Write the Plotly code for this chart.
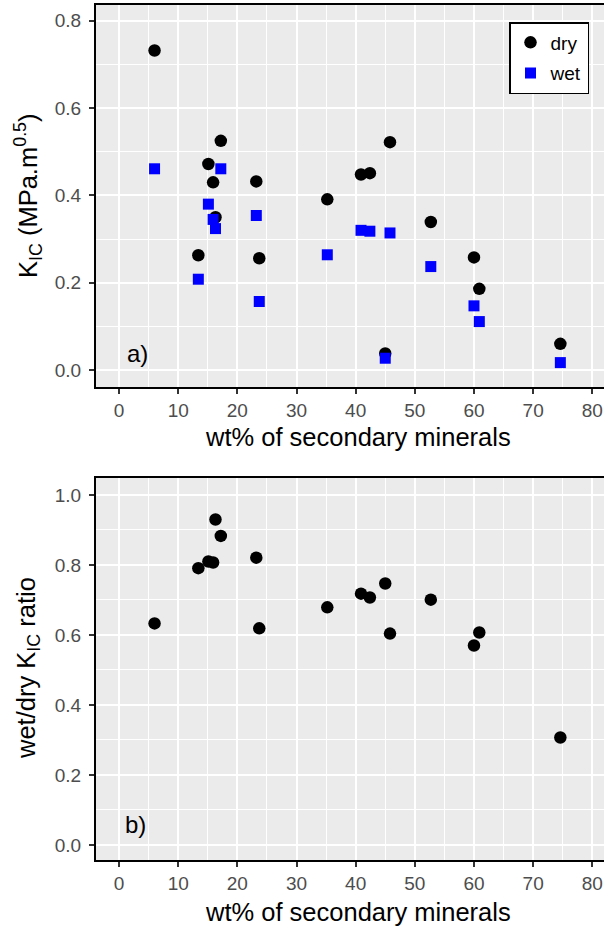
import plotly.graph_objects as go

# ---- data ----
wt_pct = [6.0, 13.4, 15.1, 15.9, 16.3, 17.2, 23.2, 23.7, 35.2, 40.9, 42.4, 45.0, 45.8, 52.7, 60.0, 60.9, 74.6]
k_dry = [0.732, 0.263, 0.472, 0.430, 0.350, 0.525, 0.432, 0.256, 0.391, 0.448, 0.451, 0.038, 0.522, 0.339, 0.258, 0.186, 0.060]
k_wet = [0.461, 0.208, 0.380, 0.345, 0.324, 0.461, 0.354, 0.157, 0.264, 0.320, 0.318, 0.027, 0.314, 0.237, 0.147, 0.111, 0.017]
ratio = [0.633, 0.791, 0.810, 0.807, 0.930, 0.883, 0.821, 0.619, 0.679, 0.718, 0.707, 0.747, 0.604, 0.701, 0.570, 0.607, 0.307]

x_ticks = [0, 10, 20, 30, 40, 50, 60, 70, 80]
top_y_ticks = [0.0, 0.2, 0.4, 0.6, 0.8]
bot_y_ticks = [0.0, 0.2, 0.4, 0.6, 0.8, 1.0]

W, H = 604, 928
FONT = "Liberation Sans, Arial, Helvetica, sans-serif"
TICK_COLOR = "#4D4D4D"
BG = "#EBEBEB"

# pixel geometry
px_left = 96
x_range = [-3.9, 81.98]
top_px = (5, 387)
bot_px = (477.5, 860)

def ydom(p):
    return [1 - p[1] / H, 1 - p[0] / H]

fig = go.Figure()

fig.add_trace(go.Scatter(x=wt_pct, y=k_dry, mode="markers", name="dry", legendgroup="dry",
                         marker=dict(symbol="circle", size=12.5, color="black"),
                         xaxis="x", yaxis="y"))
fig.add_trace(go.Scatter(x=wt_pct, y=k_wet, mode="markers", name="wet", legendgroup="wet",
                         marker=dict(symbol="square", size=11, color="#0000FF"),
                         xaxis="x", yaxis="y"))
fig.add_trace(go.Scatter(x=wt_pct, y=ratio, mode="markers", name="ratio",
                         showlegend=False,
                         marker=dict(symbol="circle", size=12.5, color="black"),
                         xaxis="x2", yaxis="y2"))

common_x = dict(
    range=x_range, domain=[px_left / W, 1.0],
    tickmode="array", tickvals=x_ticks, ticktext=[str(v) for v in x_ticks],
    showgrid=True, gridcolor="white", gridwidth=1.6,
    minor=dict(dtick=5, tick0=0, showgrid=True, gridcolor="white", gridwidth=0.8),
    zeroline=False, showline=True, linecolor="black", linewidth=2, mirror=True,
    ticks="outside", ticklen=5, tickwidth=1.5, tickcolor="#333333",
    tickfont=dict(family=FONT, size=19, color=TICK_COLOR),
    ticklabelstandoff=0,
)
common_y = dict(
    showgrid=True, gridcolor="white", gridwidth=1.6,
    zeroline=False, showline=True, linecolor="black", linewidth=2, mirror=False,
    ticks="outside", ticklen=5, tickwidth=1.5, tickcolor="#333333",
    tickfont=dict(family=FONT, size=19, color=TICK_COLOR),
    tickformat=".1f", ticklabelstandoff=4,
)

fig.update_layout(
    width=W, height=H,
    margin=dict(l=0, r=0, t=0, b=0),
    paper_bgcolor="white", plot_bgcolor=BG,
    font=dict(family=FONT),
    xaxis=dict(**common_x, anchor="y"),
    xaxis2=dict(**common_x, anchor="y2"),
    yaxis=dict(**common_y, anchor="x", domain=ydom(top_px), range=[-0.0389, 0.8362],
               tickmode="array", tickvals=top_y_ticks,
               minor=dict(dtick=0.1, tick0=0, showgrid=True, gridcolor="white", gridwidth=0.8)),
    yaxis2=dict(**common_y, anchor="x2", domain=ydom(bot_px), range=[-0.043, 1.05],
                tickmode="array", tickvals=bot_y_ticks,
                minor=dict(dtick=0.1, tick0=0, showgrid=True, gridcolor="white", gridwidth=0.8)),
    legend=dict(x=509 / W, y=1 - 22 / H, xanchor="left", yanchor="top",
                bgcolor="white", bordercolor="black", borderwidth=1.5,
                font=dict(family=FONT, size=19, color="black"),
                itemsizing="trace", tracegroupgap=3),
    showlegend=True,
)

annotations = [
    dict(text="K<sub>IC</sub> (MPa.m<sup>0.5</sup>)", xref="paper", yref="paper",
         x=28 / W, y=1 - 196 / H, xanchor="center", yanchor="middle", textangle=-90,
         showarrow=False, font=dict(family=FONT, size=25.5, color="black")),
    dict(text="wet/dry K<sub>IC</sub> ratio", xref="paper", yref="paper",
         x=28 / W, y=1 - 668 / H, xanchor="center", yanchor="middle", textangle=-90,
         showarrow=False, font=dict(family=FONT, size=25.5, color="black")),
    dict(text="wt% of secondary minerals", xref="paper", yref="paper",
         x=358 / W, y=1 - 437 / H, xanchor="center", yanchor="middle",
         showarrow=False, font=dict(family=FONT, size=25.5, color="black")),
    dict(text="wt% of secondary minerals", xref="paper", yref="paper",
         x=358 / W, y=1 - 911.5 / H, xanchor="center", yanchor="middle",
         showarrow=False, font=dict(family=FONT, size=25.5, color="black")),
    dict(text="a)", xref="x", yref="y", x=3.1, y=0.037, xanchor="center", yanchor="middle",
         showarrow=False, font=dict(family=FONT, size=24, color="black")),
    dict(text="b)", xref="x2", yref="y2", x=2.8, y=0.058, xanchor="center", yanchor="middle",
         showarrow=False, font=dict(family=FONT, size=24, color="black")),
]
fig.update_layout(annotations=annotations)

fig.write_html("out.html",
               config={"displayModeBar": False},
               post_script="document.body.style.margin='0px'; document.body.style.overflow='hidden';")
